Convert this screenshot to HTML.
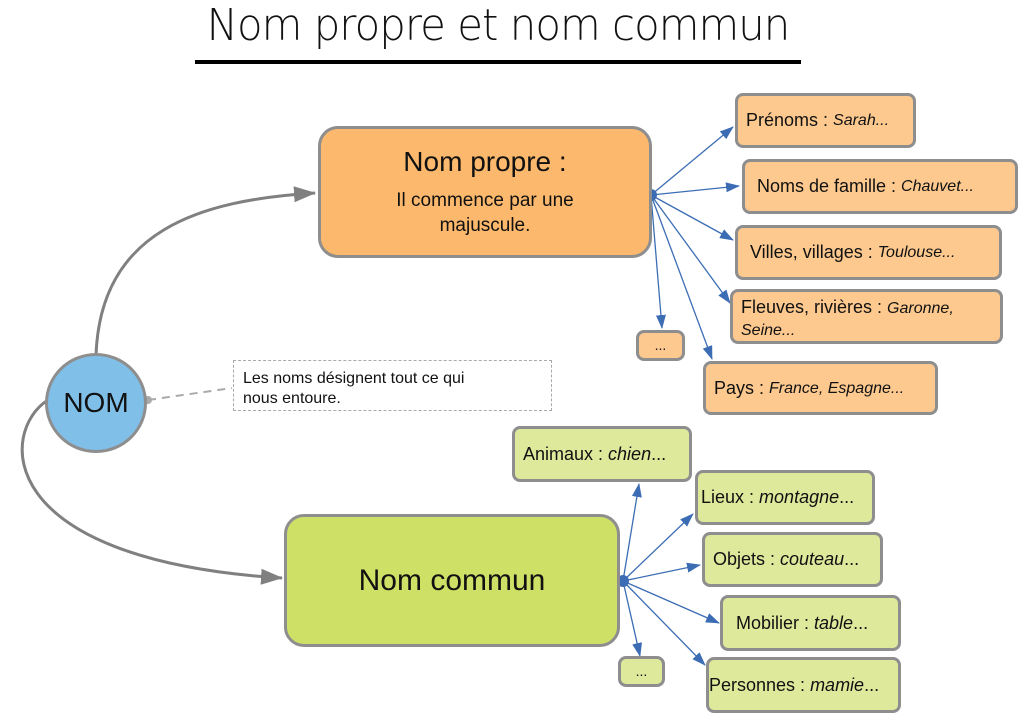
<!DOCTYPE html>
<html><head><meta charset="utf-8"><style>
body{margin:0;width:1024px;height:722px;background:#fff;position:relative;overflow:hidden;font-family:"Liberation Sans",sans-serif;color:#111}
.b{position:absolute;box-sizing:border-box;border:3px solid #8e8e8e;border-radius:8px;display:flex;align-items:center;font-size:18px;padding-left:8px;line-height:21px;white-space:nowrap}
.o{background:#fdc98f}
.g{background:#dfe99c}
i{font-size:16px}
</style></head><body>
<div style="position:absolute;left:185px;top:0;width:626px;text-align:center;white-space:nowrap;font-family:'DejaVu Sans',sans-serif;font-weight:200;font-size:44px;letter-spacing:-1px;transform:scaleX(0.95)">Nom propre et nom commun</div>
<div style="position:absolute;left:195px;top:60px;width:606px;height:4px;background:#000"></div>
<svg width="1024" height="722" style="position:absolute;left:0;top:0">
<defs><marker id="a" markerWidth="14" markerHeight="10" refX="13" refY="5" orient="auto" markerUnits="userSpaceOnUse"><path d="M0,0 L14,5 L0,10z" fill="#3c6db4"/></marker>
<marker id="g" markerWidth="22" markerHeight="16" refX="21" refY="8" orient="auto" markerUnits="userSpaceOnUse"><path d="M0,0 L22,8 L0,16z" fill="#808080"/></marker></defs>
<path d="M96,356 C100,230 200,200 315,193" stroke="#808080" stroke-width="3" fill="none" marker-end="url(#g)"/>
<path d="M48,400 C0,430 -10,560 282,578" stroke="#808080" stroke-width="3" fill="none" marker-end="url(#g)"/>
<path d="M148,400 L232,388" stroke="#aaa" stroke-width="2" stroke-dasharray="8,6" fill="none"/>
<circle cx="148" cy="400" r="4" fill="#aaa"/>
<g stroke="#3c6db4" stroke-width="1.3" fill="none">
<path d="M651,195 L733,127" marker-end="url(#a)"/><path d="M651,195 L739,186" marker-end="url(#a)"/>
<path d="M651,195 L733,240" marker-end="url(#a)"/><path d="M651,195 L730,303" marker-end="url(#a)"/>
<path d="M651,195 L662,328" marker-end="url(#a)"/><path d="M651,195 L712,359" marker-end="url(#a)"/>
<path d="M623,581 L639,484" marker-end="url(#a)"/><path d="M623,581 L693,514" marker-end="url(#a)"/>
<path d="M623,581 L700,565" marker-end="url(#a)"/><path d="M623,581 L719,623" marker-end="url(#a)"/>
<path d="M623,581 L640,656" marker-end="url(#a)"/><path d="M623,581 L705,665" marker-end="url(#a)"/>
</g>
<circle cx="651" cy="195" r="6" fill="#3c6db4"/><circle cx="623" cy="581" r="6" fill="#3c6db4"/>
</svg>
<div style="position:absolute;left:318px;top:126px;width:334px;height:132px;box-sizing:border-box;background:#fcb86c;border:3px solid #8e8e8e;border-radius:20px;text-align:center">
<div style="font-size:28px;margin-top:17px">Nom propre :</div>
<div style="font-size:19px;margin-top:10px;line-height:25px">Il commence par une<br>majuscule.</div></div>
<div style="position:absolute;left:284px;top:514px;width:336px;height:133px;box-sizing:border-box;background:#cfe066;border:3px solid #8e8e8e;border-radius:20px;display:flex;align-items:center;justify-content:center;font-size:30px">Nom commun</div>
<div style="position:absolute;left:45px;top:353px;width:102px;height:100px;box-sizing:border-box;background:#7fbfe8;border:3px solid #8e8e8e;border-radius:50%;display:flex;align-items:center;justify-content:center;font-size:28px">NOM</div>
<div style="position:absolute;left:233px;top:360px;width:319px;height:51px;box-sizing:border-box;border:1.5px dashed #aaa;font-size:16px;padding:8px 0 0 9px;line-height:20px">Les noms désignent tout ce qui<br>nous entoure.</div>
<div class="b o" style="left:735px;top:93px;width:181px;height:55px">Prénoms :&nbsp;<i>Sarah...</i></div>
<div class="b o" style="left:742px;top:159px;width:276px;height:55px;padding-left:12px">Noms de famille :&nbsp;<i>Chauvet...</i></div>
<div class="b o" style="left:735px;top:225px;width:267px;height:55px;padding-left:12px">Villes, villages :&nbsp;<i>Toulouse...</i></div>
<div class="b o" style="left:730px;top:289px;width:273px;height:55px;display:block;padding-top:5px">Fleuves, rivières : <i>Garonne,<br>Seine...</i></div>
<div class="b o" style="left:636px;top:330px;width:49px;height:31px;justify-content:center;padding:0;font-size:14px">...</div>
<div class="b o" style="left:703px;top:361px;width:235px;height:54px">Pays :&nbsp;<i>France, Espagne...</i></div>
<div class="b g" style="left:512px;top:426px;width:180px;height:56px">Animaux :&nbsp;<i style="font-size:18px">chien</i>...</div>
<div class="b g" style="left:695px;top:470px;width:180px;height:55px;padding-left:3px">Lieux :&nbsp;<i style="font-size:18px">montagne</i>...</div>
<div class="b g" style="left:702px;top:532px;width:181px;height:55px">Objets :&nbsp;<i style="font-size:18px">couteau</i>...</div>
<div class="b g" style="left:720px;top:595px;width:181px;height:56px;padding-left:13px">Mobilier :&nbsp;<i style="font-size:18px">table</i>...</div>
<div class="b g" style="left:706px;top:657px;width:195px;height:56px;padding-left:0">Personnes :&nbsp;<i style="font-size:18px">mamie</i>...</div>
<div class="b g" style="left:618px;top:656px;width:47px;height:31px;justify-content:center;padding:0;font-size:14px">...</div>
</body></html>
